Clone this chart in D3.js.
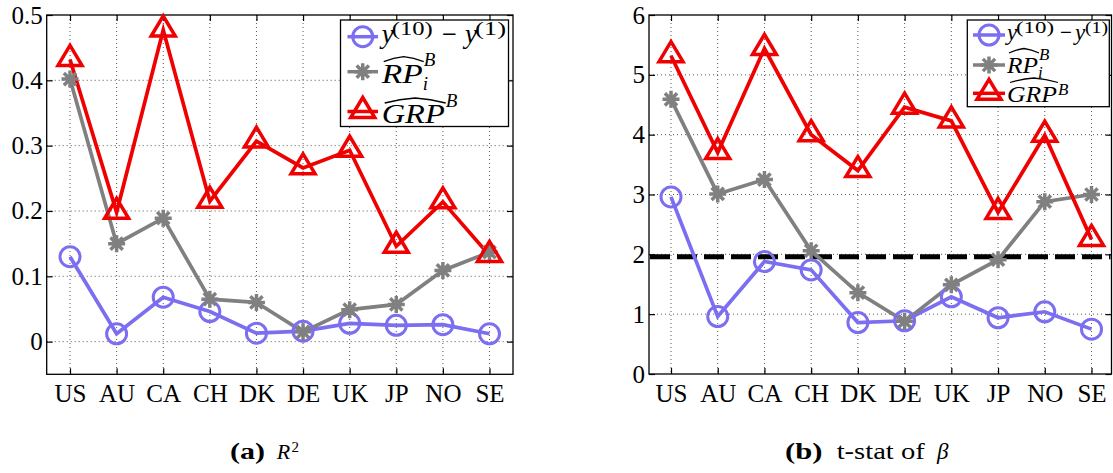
<!DOCTYPE html>
<html><head><meta charset="utf-8">
<script src="https://cdn.jsdelivr.net/npm/d3@7"></script>
<style>body{margin:0;background:#fff} svg{display:block}</style>
</head><body><svg id="c" width="1113" height="473"></svg>
<script>
// ---------------- data ----------------
const categories = ["US","AU","CA","CH","DK","DE","UK","JP","NO","SE"];
// panel (a): R^2
const r2Spread = [0.130,0.012,0.068,0.046,0.013,0.016,0.028,0.025,0.026,0.012];
const r2RP     = [0.402,0.150,0.189,0.065,0.060,0.015,0.049,0.057,0.109,0.137];
const r2GRP    = [0.432,0.198,0.477,0.215,0.307,0.266,0.293,0.146,0.214,0.132];
// panel (b): t-stat of beta
const tSpread  = [2.96,0.96,1.88,1.74,0.86,0.89,1.29,0.94,1.04,0.75];
const tRP      = [4.59,3.01,3.25,2.06,1.36,0.88,1.49,1.91,2.88,3.00];
const tGRP     = [5.32,3.70,5.44,4.00,3.40,4.46,4.23,2.70,3.99,2.25];
const tCritical = 1.96;
// ticks
const r2Ticks = [0,0.1,0.2,0.3,0.4,0.5];
const r2TickLabels = ["0","0.1","0.2","0.3","0.4","0.5"];
const tTicks = [0,1,2,3,4,5,6];
const tTickLabels = ["0","1","2","3","4","5","6"];

// ---------------- styles ----------------
const SERIF = '"Liberation Serif","Times New Roman",serif';
const BLUE = "#7b6ef0", GRAY = "#808080", RED = "#f00000";
const svg = d3.select("#c");

function marker(g, type, color) {
  if (type === "circle") {
    g.append("circle").attr("r", 10).attr("fill", "none")
      .attr("stroke", color).attr("stroke-width", 3);
  } else if (type === "star") {
    const s = 8.5, d = s * 0.72;
    g.append("path")
      .attr("d", `M0,${-s}V${s}M${-s},0H${s}M${-d},${-d}L${d},${d}M${-d},${d}L${d},${-d}`)
      .attr("stroke", color).attr("stroke-width", 3.5).attr("fill", "none");
  } else {
    g.append("path").attr("d", "M0,-14L12,6L-12,6Z").attr("fill", "none")
      .attr("stroke", color).attr("stroke-width", 3.5).attr("stroke-linejoin", "miter");
  }
}

function drawPanel(p) {
  const g = svg.append("g");
  const x = d3.scalePoint().domain(categories).range(p.xRange);
  const y = d3.scaleLinear().domain(p.yDomain).range([p.bottom, p.top]);

  // grid
  const grid = g.append("g").attr("stroke", "#444").attr("stroke-width", 0.9)
    .attr("stroke-dasharray", "1,3");
  grid.selectAll("line.v").data(categories).join("line").attr("class", "v")
    .attr("x1", d => x(d)).attr("x2", d => x(d)).attr("y1", p.top).attr("y2", p.bottom);
  grid.selectAll("line.h").data(p.ticks.filter(t => y(t) > p.top + 1 && y(t) < p.bottom - 1))
    .join("line").attr("class", "h")
    .attr("x1", p.boxL).attr("x2", p.boxR).attr("y1", d => y(d)).attr("y2", d => y(d));

  // axes (inward ticks, MATLAB box style)
  const styleAxis = a => {
    a.select(".domain").remove();
    a.attr("font-family", SERIF).attr("font-size", 25);
    a.selectAll("line").attr("stroke-width", 1.2);
    a.selectAll("text").attr("fill", "#000").style("font-family", SERIF);
  };
  g.append("g").attr("transform", `translate(${p.boxL},0)`)
    .call(d3.axisLeft(y).tickValues(p.ticks).tickFormat((d, i) => p.labels[i]).tickSize(-6).tickPadding(4))
    .call(styleAxis);
  g.append("g").attr("transform", `translate(${p.boxR},0)`)
    .call(d3.axisRight(y).tickValues(p.ticks).tickFormat("").tickSize(-6))
    .call(styleAxis);
  g.append("g").attr("transform", `translate(0,${p.bottom})`)
    .call(d3.axisBottom(x).tickSize(-6).tickPadding(10))
    .call(styleAxis);
  g.append("g").attr("transform", `translate(0,${p.top})`)
    .call(d3.axisTop(x).tickFormat("").tickSize(-6))
    .call(styleAxis);
  g.append("rect").attr("x", p.boxL).attr("y", p.top)
    .attr("width", p.boxR - p.boxL).attr("height", p.bottom - p.top)
    .attr("fill", "none").attr("stroke", "#000").attr("stroke-width", 1.3);

  if (p.refLine !== undefined) {
    g.append("line").attr("x1", p.boxL + 1).attr("x2", p.boxR - 1)
      .attr("y1", y(p.refLine)).attr("y2", y(p.refLine))
      .attr("stroke", "#000").attr("stroke-width", 5).attr("stroke-dasharray", "20,7");
  }

  const line = d3.line().x((d, i) => x(categories[i])).y(d => y(d));
  p.series.forEach(s => {
    g.append("path").datum(s.values).attr("d", line).attr("fill", "none")
      .attr("stroke", s.color).attr("stroke-width", 3.7).attr("stroke-linejoin", "miter");
  });
  p.series.forEach(s => {
    s.values.forEach((v, i) => {
      const m = g.append("g").attr("transform", `translate(${x(categories[i])},${y(v)})`);
      marker(m, s.marker, s.color);
    });
  });
  return g;
}

function txt(g, str, x, y, size, opts = {}) {
  const t = g.append("text").attr("x", x).attr("y", y).style("font-family", SERIF)
    .attr("font-size", size).attr("fill", "#000").text(str);
  if (opts.italic) t.style("font-style", "italic");
  if (opts.bold) t.style("font-weight", "bold");
  if (opts.len) t.attr("textLength", opts.len).attr("lengthAdjust", "spacingAndGlyphs");
  return t;
}
function hat(g, x0, x1, yPeak, yEnd) {
  const xm = (x0 + x1) / 2;
  g.append("path").attr("d", `M${x0},${yEnd}Q${(x0 + xm) / 2},${yPeak + 1} ${xm},${yPeak}Q${(xm + x1) / 2},${yPeak + 1} ${x1},${yEnd}`)
    .attr("fill", "none").attr("stroke", "#000").attr("stroke-width", 1.3);
}

function drawLegend(L) {
  const g = svg.append("g");
  g.append("rect").attr("x", L.box[0]).attr("y", L.box[1])
    .attr("width", L.box[2] - L.box[0]).attr("height", L.box[3] - L.box[1])
    .attr("fill", "#fff").attr("stroke", "#000").attr("stroke-width", 1.3);
  const items = [{ c: BLUE, m: "circle" }, { c: GRAY, m: "star" }, { c: RED, m: "tri" }];
  items.forEach((it, k) => {
    const cy = L.rows[k];
    g.append("line").attr("x1", L.lx[0]).attr("x2", L.lx[1]).attr("y1", cy).attr("y2", cy)
      .attr("stroke", it.c).attr("stroke-width", 3.5);
    const m = g.append("g").attr("transform", `translate(${(L.lx[0] + L.lx[1]) / 2},${cy})`);
    marker(m, it.m, it.c);
  });
  const T = L.text;
  // row 1: y^(10) - y^(1)
  txt(g, "y", T.r1.y1, T.r1.bl, L.fs, { italic: true });
  txt(g, "(10)", T.r1.s1, T.r1.sbl, L.ss, { len: T.r1.s1len });
  txt(g, "\u2212", T.r1.minus, T.r1.bl, L.fs, { len: T.r1.mlen });
  txt(g, "y", T.r1.y2, T.r1.bl, L.fs, { italic: true });
  txt(g, "(1)", T.r1.s2, T.r1.sbl, L.ss, { len: T.r1.s2len });
  // row 2: RP-hat _i ^B
  txt(g, "RP", T.x, T.r2.bl, L.fs, { italic: true, len: T.r2.len });
  hat(g, T.x + 2, T.x + T.r2.len + 1, T.r2.hp, T.r2.he);
  txt(g, "B", T.x + T.r2.len + 1, T.r2.bbl, L.ss, { italic: true });
  txt(g, "i", T.x + T.r2.len, T.r2.ibl, L.ss, { italic: true });
  // row 3: GRP-hat ^B
  txt(g, "GRP", T.x, T.r3.bl, L.fs, { italic: true, len: T.r3.len });
  hat(g, T.x + 3, T.x + T.r3.len + 1, T.r3.hp, T.r3.he);
  txt(g, "B", T.x + T.r3.len + 1, T.r3.bbl, L.ss, { italic: true });
}

// ---------------- panel (a) ----------------
drawPanel({
  boxL: 46.7, boxR: 513, top: 15, bottom: 374.3,
  xRange: [70, 489.5], yDomain: [-0.05, 0.5],
  ticks: r2Ticks, labels: r2TickLabels,
  series: [
    { values: r2Spread, color: BLUE, marker: "circle" },
    { values: r2RP, color: GRAY, marker: "star" },
    { values: r2GRP, color: RED, marker: "tri" }
  ]
});
// ---------------- panel (b) ----------------
drawPanel({
  boxL: 649, boxR: 1111.5, top: 15, bottom: 374,
  xRange: [671, 1091.5], yDomain: [0, 6],
  ticks: tTicks, labels: tTickLabels, refLine: tCritical,
  series: [
    { values: tSpread, color: BLUE, marker: "circle" },
    { values: tRP, color: GRAY, marker: "star" },
    { values: tGRP, color: RED, marker: "tri" }
  ]
});

drawLegend({
  box: [340.5, 20, 508.5, 126.5], lx: [347.5, 378], rows: [36.7, 71.7, 111.5],
  fs: 27, ss: 19,
  text: {
    x: 381.7,
    r1: { bl: 43.3, sbl: 35, y1: 381.7, s1: 391.7, s1len: 41, minus: 441.7, mlen: 15, y2: 465, s2: 475, s2len: 31 },
    r2: { bl: 83.3, len: 41, hp: 56.7, he: 61.7, bbl: 66, ibl: 90 },
    r3: { bl: 123.3, len: 63, hp: 98, he: 103, bbl: 106.5 }
  }
});
drawLegend({
  box: [967.3, 20, 1109.3, 106.7], lx: [973, 1005], rows: [35, 65, 93.3],
  fs: 23, ss: 17,
  text: {
    x: 1007,
    r1: { bl: 40, sbl: 33, y1: 1007, s1: 1016, s1len: 38, minus: 1060, mlen: 12, y2: 1075, s2: 1085, s2len: 23 },
    r2: { bl: 73.3, len: 31, hp: 48.5, he: 53, bbl: 60, ibl: 78.3 },
    r3: { bl: 102.3, len: 50, hp: 78, he: 82.5, bbl: 95 }
  }
});

// ---------------- captions ----------------
const cap = svg.append("g");
txt(cap, "(a)", 230, 459.3, 24, { bold: true, len: 35 });
txt(cap, "R", 276.7, 459.3, 22, { italic: true });
txt(cap, "2", 291.5, 452, 15);
txt(cap, "(b)", 785, 459.3, 24, { bold: true, len: 37.5 });
txt(cap, "t-stat of", 836.7, 459.3, 24, { len: 88 });
txt(cap, "\u03b2", 937, 459.3, 23, { italic: true });
</script>
</body></html>
